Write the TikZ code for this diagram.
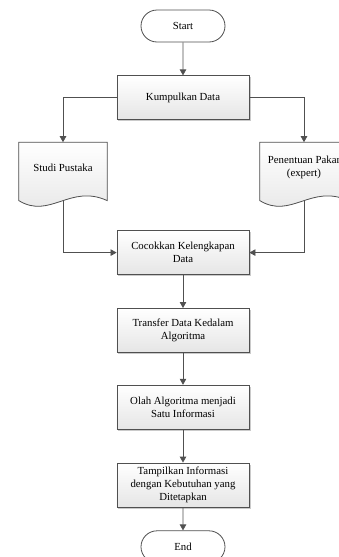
\documentclass[tikz,border=0pt]{standalone}
\usepackage{fontspec}
\setmainfont{Liberation Serif}
\usepackage{tikz}
\usetikzlibrary{positioning,arrows.meta,shapes.misc,shadows,backgrounds}
\definecolor{lncol}{RGB}{80,80,80}
\newcommand{\docshape}[1]{%
  \fill[black!22, shift={(1.5pt,-1.5pt)}] (#1.north west) -- (#1.north east) -- ([yshift=-7pt]#1.south east) .. controls ([xshift=-37pt,yshift=10pt]#1.south east) and ([xshift=31pt,yshift=-26pt]#1.south west) .. ([yshift=-7pt]#1.south west) -- cycle;
  \draw[draw=lncol, line width=0.8pt, top color=white, bottom color=black!10] (#1.north west) -- (#1.north east) -- ([yshift=-7pt]#1.south east) .. controls ([xshift=-37pt,yshift=10pt]#1.south east) and ([xshift=31pt,yshift=-26pt]#1.south west) .. ([yshift=-7pt]#1.south west) -- cycle;}

\begin{document}
\begin{tikzpicture}[
  font=\fontsize{10.8}{13}\selectfont,
  term/.style={draw=lncol, line width=0.8pt, rounded rectangle, fill=white, minimum width=88pt, minimum height=32pt, inner sep=2pt},
  proc/.style={draw=lncol, line width=0.8pt, top color=white, bottom color=black!10, minimum width=132pt, minimum height=44pt, align=center, inner sep=3pt,
    drop shadow={shadow xshift=1.5pt, shadow yshift=-1.5pt, fill=black!35, opacity=.6}},
  doc/.style={minimum width=88pt, minimum height=51pt, align=center, inner sep=2pt},
  arr/.style={-{Triangle[length=6pt, width=6.5pt]}, draw=lncol, line width=0.8pt}]
\useasboundingbox (-183pt,26pt) rectangle (155pt,-531pt);
\node[term] (start) at (0,0) {Start};
\node[proc, below=33pt of start] (kumpul) {Kumpulkan Data};
\node[doc, below=22pt of kumpul, xshift=-120pt] (studi) {Studi Pustaka};
\node[doc, below=22pt of kumpul, xshift=121pt] (pakar) {Penentuan Pakar\\ (expert)};
\node[proc, below=110pt of kumpul] (cocok) {Cocokkan Kelengkapan\\ Data};
\node[proc, below=33pt of cocok] (transfer) {Transfer Data Kedalam\\ Algoritma};
\node[proc, below=32pt of transfer] (olah) {Olah Algoritma menjadi\\ Satu Informasi};
\node[proc, below=33pt of olah] (tampil) {Tampilkan Informasi\\ dengan Kebutuhan yang\\ Ditetapkan};
\node[term, below=23pt of tampil] (end) {End};
\begin{scope}[on background layer]
\docshape{studi} \docshape{pakar}
\end{scope}
\coordinate (studi-b) at ([yshift=-7pt]studi.south);
\coordinate (pakar-b) at ([yshift=-7pt]pakar.south);
\draw[arr] (start) -- (kumpul);
\draw[arr] (kumpul.west) -| (studi.north); \draw[arr] (kumpul.east) -| (pakar.north);
\draw[arr] (studi-b) |- (cocok.west); \draw[arr] (pakar-b) |- (cocok.east);
\draw[arr] (cocok) -- (transfer); \draw[arr] (transfer) -- (olah);
\draw[arr] (olah) -- (tampil); \draw[arr] (tampil) -- (end);
\end{tikzpicture}
\end{document}
